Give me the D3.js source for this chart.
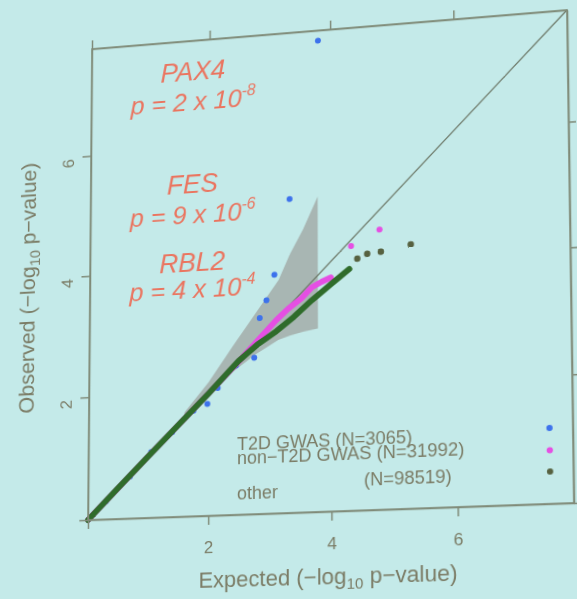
<!DOCTYPE html>
<html>
<head>
<meta charset="utf-8">
<script src="https://cdn.jsdelivr.net/npm/d3@7"></script>
<style>
  html, body { margin: 0; padding: 0; background: #c4eae9; overflow: hidden; }
  svg { display: block; transform-origin: 0 0; font-family: "Liberation Sans", Arial, sans-serif; }
</style>
</head>
<body>
<svg id="chart" width="577" height="599"></svg>
<script>
// T2D GWAS SNPs (blue points), expected vs observed -log10 p
var t2dExpected = [0.3, 0.7, 1.05, 1.4, 1.75, 1.98, 2.15, 2.45, 2.75, 2.84, 2.95, 3.08, 3.33, 3.80];
var t2dObserved = [0.29, 0.68, 1.06, 1.37, 1.70, 1.80, 2.05, 2.40, 2.51, 3.15, 3.43, 3.84, 5.06, 7.63];

// non-T2D GWAS SNPs (magenta): dense run, then the top points
var nonT2dExpected = [0, 1.0, 2.0, 2.5, 2.8, 3.11, 3.3, 3.52, 3.69, 3.85, 4.0];
var nonT2dObserved = [0, 0.99, 1.97, 2.47, 2.78, 3.10, 3.27, 3.43, 3.60, 3.68, 3.74];
var nonT2dTopExpected = [4.33, 4.79];
var nonT2dTopObserved = [4.23, 4.47];

// other SNPs (green): dense run, then the top points
var otherExpected = [0, 0.5, 1.0, 1.5, 2.0, 2.49, 2.8, 3.11, 3.4, 3.69, 4.0, 4.3];
var otherObserved = [0, 0.5, 0.99, 1.48, 1.97, 2.47, 2.72, 2.92, 3.14, 3.39, 3.63, 3.86];
var otherTopExpected = [4.43, 4.59, 4.81, 5.29];
var otherTopObserved = [4.02, 4.09, 4.11, 4.20];

// 95% band for the T2D set
var ciExpected = [1.6, 2.0, 2.4, 2.75, 3.15, 3.33, 3.55, 3.79];
var ciUpper = [1.68, 2.15, 2.72, 3.2, 3.75, 4.15, 4.55, 5.07];
var ciLower = [1.55, 1.92, 2.3, 2.55, 2.78, 2.84, 2.89, 2.93];

var tickValues = [0, 2, 4, 6];
var axisMax = 7.8;

var noteGenes = ['PAX4', 'FES', 'RBL2'];
var noteMantissa = ['2', '9', '4'];
var noteExponent = ['-8', '-6', '-4'];

var legendLabels = ['T2D GWAS (N=3065)', 'non\u2212T2D GWAS (N=31992)', '(N=98519)', 'other'];

// ---- layout ----
var width = 577, height = 599;
var margin = {top: 29, right: 7, bottom: 87, left: 90};
var ink = '#7b7c66', frame = '#7f8a78', red = '#ea7560';
var blue = '#3d72ec', pink = '#e54fe3', green = '#2f6c2b', olive = '#566140';

var svg = d3.select('#chart');
var x = d3.scaleLinear().domain([0, axisMax]).range([margin.left, width - margin.right]);
var y = d3.scaleLinear().domain([0, axisMax]).range([height - margin.bottom, margin.top]);

var zip = function(a, b) { return a.map(function(v, i) { return [v, b[i]]; }); };

// confidence band
svg.append('path')
    .datum(ciExpected.map(function(v, i) { return {e: v, lo: ciLower[i], hi: ciUpper[i]}; }))
    .attr('fill', '#a8b6b3')
    .attr('d', d3.area().x(function(d) { return x(d.e); })
        .y0(function(d) { return y(d.lo); }).y1(function(d) { return y(d.hi); }));

// y = x
svg.append('line')
    .attr('x1', x(0)).attr('y1', y(0)).attr('x2', x(axisMax)).attr('y2', y(axisMax))
    .attr('stroke', '#6e7a6a').attr('stroke-width', 1.3);

var dots = function(pts, color, r) {
    svg.append('g').selectAll('circle').data(pts).enter().append('circle')
        .attr('cx', function(d) { return x(d[0]); })
        .attr('cy', function(d) { return y(d[1]); })
        .attr('r', r).attr('fill', color);
};

var band = function(pts, color, w) {
    svg.append('path').datum(pts)
        .attr('fill', 'none').attr('stroke', color).attr('stroke-width', w)
        .attr('stroke-linecap', 'round').attr('stroke-linejoin', 'round')
        .attr('d', d3.line().x(function(d) { return x(d[0]); }).y(function(d) { return y(d[1]); }));
};

dots(zip(t2dExpected, t2dObserved), blue, 3);
band(zip(nonT2dExpected, nonT2dObserved), pink, 6);
band(zip(otherExpected, otherObserved), green, 6);
dots(zip(nonT2dTopExpected, nonT2dTopObserved), pink, 3);
dots(zip(otherTopExpected, otherTopObserved), olive, 3.2);

// frame
svg.append('rect')
    .attr('x', x(0)).attr('y', y(axisMax))
    .attr('width', x(axisMax) - x(0)).attr('height', y(0) - y(axisMax))
    .attr('fill', 'none').attr('stroke', frame).attr('stroke-width', 1.5);

var axes = [
    [d3.axisBottom(x), 'translate(0,' + y(0) + ')', true],
    [d3.axisLeft(y), 'translate(' + x(0) + ',0)', true],
    [d3.axisTop(x), 'translate(0,' + y(axisMax) + ')', false],
    [d3.axisRight(y), 'translate(' + x(axisMax) + ',0)', false]
];
axes.forEach(function(a, i) {
    var g = svg.append('g').attr('transform', a[1])
        .call(a[0].tickValues(tickValues).tickSize(9).tickSizeOuter(0)
            .tickFormat(function(d) { return a[2] && d ? d : ''; }));
    g.select('.domain').attr('stroke', frame).attr('stroke-width', 1.5);
    g.selectAll('line').attr('stroke', frame).attr('stroke-width', 1.5);
    g.selectAll('text').attr('fill', ink).style('font-size', '17px');
    if (i == 0) g.selectAll('text').attr('y', 37).attr('dy', 0);
    if (i == 1) g.selectAll('text').attr('x', 0).attr('dy', 0)
        .attr('text-anchor', 'middle').attr('transform', 'translate(-18,6) rotate(-90)');
});

// axis titles
var title = function(t, word) {
    t.attr('fill', ink).style('font-size', '22px').attr('text-anchor', 'middle');
    t.append('tspan').text(word + ' (\u2212log');
    t.append('tspan').text('10').style('font-size', '15px').attr('dy', 5);
    t.append('tspan').text(' p\u2212value)').attr('dy', -5);
};
title(svg.append('text').attr('x', (x(0) + x(axisMax)) / 2 + 1).attr('y', y(0) + 71), 'Expected');
title(svg.append('text')
    .attr('transform', 'translate(' + (x(0) - 58) + ',' + ((y(0) + y(axisMax)) / 2 + 2) + ') rotate(-90)'), 'Observed');

// gene notes
var noteY = [[7.13, 6.63], [5.27, 4.77], [3.98, 3.53]];
noteGenes.forEach(function(gene, i) {
    svg.append('text').attr('x', x(1.72)).attr('y', y(noteY[i][0]))
        .attr('text-anchor', 'middle').attr('fill', red)
        .style('font-size', '27px').style('font-style', 'italic').text(gene);
    var t = svg.append('text').attr('x', x(1.72)).attr('y', y(noteY[i][1]))
        .attr('text-anchor', 'middle').attr('fill', red)
        .style('font-size', '26px').style('font-style', 'italic');
    t.append('tspan').text('p = ' + noteMantissa[i] + ' x 10');
    t.append('tspan').text(noteExponent[i]).style('font-size', '16px').attr('dy', -11);
});

// legend
var legendAt = [[2.47, 1.03], [2.47, 0.8], [4.52, 0.39], [2.47, 0.25]];
legendLabels.forEach(function(lab, i) {
    svg.append('text').attr('x', x(legendAt[i][0])).attr('y', y(legendAt[i][1]))
        .attr('fill', ink).style('font-size', '18px').text(lab);
});
var legendDots = [[7.44, 1.18, blue], [7.44, 0.83, pink], [7.44, 0.5, olive]];
legendDots.forEach(function(d) {
    svg.append('circle').attr('cx', x(d[0])).attr('cy', y(d[1])).attr('r', 3).attr('fill', d[2]);
});

// photo is shot at an angle: warp the plot box onto the corners seen in it
function solve(A, b) {
    var n = b.length;
    for (var c = 0; c < n; c++) {
        var p = c;
        for (var r = c + 1; r < n; r++) if (Math.abs(A[r][c]) > Math.abs(A[p][c])) p = r;
        var tmp = A[c]; A[c] = A[p]; A[p] = tmp;
        tmp = b[c]; b[c] = b[p]; b[p] = tmp;
        for (var r2 = c + 1; r2 < n; r2++) {
            var f = A[r2][c] / A[c][c];
            for (var k = c; k < n; k++) A[r2][k] -= f * A[c][k];
            b[r2] -= f * b[c];
        }
    }
    var h = new Array(n);
    for (var i = n - 1; i >= 0; i--) {
        var s = b[i];
        for (var j = i + 1; j < n; j++) s -= A[i][j] * h[j];
        h[i] = s / A[i][i];
    }
    return h;
}
var src = [[x(0), y(axisMax)], [x(axisMax), y(axisMax)], [x(axisMax), y(0)], [x(0), y(0)]];
var dst = [[92, 49], [567, 10], [574, 503], [88, 520]];
var A = [], b = [];
src.forEach(function(s, i) {
    var X = dst[i][0], Y = dst[i][1];
    A.push([s[0], s[1], 1, 0, 0, 0, -s[0] * X, -s[1] * X]); b.push(X);
    A.push([0, 0, 0, s[0], s[1], 1, -s[0] * Y, -s[1] * Y]); b.push(Y);
});
var h = solve(A, b);
svg.style('transform', 'matrix3d(' + [h[0], h[3], 0, h[6], h[1], h[4], 0, h[7], 0, 0, 1, 0, h[2], h[5], 0, 1].join(',') + ')');
</script>
</body>
</html>
